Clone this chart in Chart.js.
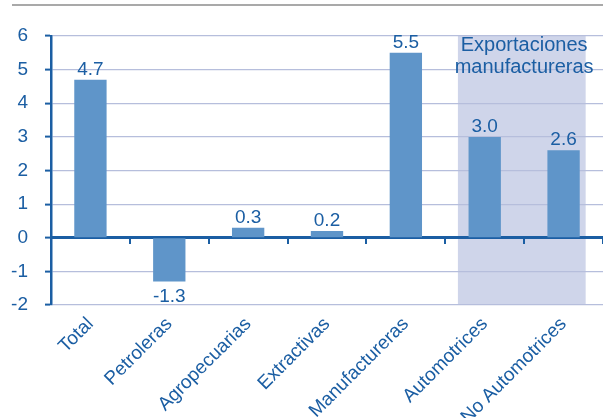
<!DOCTYPE html>
<html>
<head>
<meta charset="utf-8">
<script src="https://cdn.jsdelivr.net/npm/chart.js@4/dist/chart.umd.min.js"></script>
<style>
    html, body { margin: 0; padding: 0; background: #fff; }
    #wrap { position: relative; width: 603px; height: 418px; }
</style>
</head>
<body>
<div id="wrap"><canvas id="c" width="603" height="418"></canvas></div>
<script>
/* Exportaciones por tipo de producto — variación */

const categories = ['Total', 'Petroleras', 'Agropecuarias', 'Extractivas', 'Manufactureras', 'Automotrices', 'No Automotrices'];
const values = [4.7, -1.3, 0.3, 0.2, 5.5, 3.0, 2.6];
const yTicks = [-2, -1, 0, 1, 2, 3, 4, 5, 6];
const groupLabel = ['Exportaciones', 'manufactureras'];
const groupCategories = ['Automotrices', 'No Automotrices'];

const BLUE = '#1b5ea3';
const BAR = '#5f95c9';
const GRID = '#b6bedc';
const SHADE = '#cfd5ea';
const FONT = '"Liberation Sans", Arial, sans-serif';

// shaded band behind the manufacturing export bars, plus the rule at the top
const bandPlugin = {
    id: 'band',
    beforeDraw(chart) {
        const ctx = chart.ctx;
        const x = chart.scales.x;
        const area = chart.chartArea;
        const step = x.getPixelForValue(1) - x.getPixelForValue(0);
        const i0 = categories.indexOf(groupCategories[0]);
        const i1 = categories.indexOf(groupCategories[1]);
        const left = x.getPixelForValue(i0) - step * 0.34;
        const right = x.getPixelForValue(i1) + step * 0.28;
        ctx.save();
        ctx.fillStyle = SHADE;
        ctx.fillRect(left, area.top, right - left, area.bottom - area.top);
        ctx.strokeStyle = '#a9a9a9';
        ctx.lineWidth = 2;
        ctx.beginPath();
        ctx.moveTo(12, 5);
        ctx.lineTo(chart.width, 5);
        ctx.stroke();
        ctx.restore();
    },
    afterDatasetsDraw(chart) {
        const ctx = chart.ctx;
        const x = chart.scales.x;
        const y = chart.scales.y;
        const meta = chart.getDatasetMeta(0);
        ctx.save();
        ctx.fillStyle = BLUE;
        ctx.font = '19px ' + FONT;
        ctx.textAlign = 'center';
        meta.data.forEach(function (bar, i) {
            const v = values[i];
            if (v >= 0) {
                ctx.textBaseline = 'alphabetic';
                ctx.fillText(v.toFixed(1), bar.x, bar.y - 5);
            } else {
                ctx.textBaseline = 'top';
                ctx.fillText(v.toFixed(1), bar.x, bar.y + 6);
            }
        });
        // group caption
        const i0 = categories.indexOf(groupCategories[0]);
        const i1 = categories.indexOf(groupCategories[1]);
        const cx = (x.getPixelForValue(i0) + x.getPixelForValue(i1)) / 2;
        ctx.font = '20px ' + FONT;
        ctx.textBaseline = 'middle';
        ctx.fillText(groupLabel[0], cx, y.getPixelForValue(5.73));
        ctx.fillText(groupLabel[1], cx, y.getPixelForValue(5.05));
        ctx.restore();
    }
};

new Chart(document.getElementById('c'), {
    type: 'bar',
    data: {
        labels: categories,
        datasets: [{
            data: values,
            backgroundColor: BAR,
            borderWidth: 0,
            categoryPercentage: 1,
            barPercentage: 0.41
        }]
    },
    options: {
        responsive: false,
        animation: false,
        layout: { padding: { top: 36, right: 0, left: 0, bottom: 0 } },
        plugins: { legend: { display: false }, tooltip: { enabled: false } },
        scales: {
            x: {
                grid: { display: false },
                border: { display: false },
                ticks: {
                    color: BLUE,
                    font: { size: 19, family: FONT },
                    minRotation: 45,
                    maxRotation: 45,
                    padding: 0
                },
                afterFit: function (s) { s.height = 113; }
            },
            x0: {
                type: 'category',
                position: { y: 0 },
                grid: { drawOnChartArea: false, offset: true, tickLength: 5, color: BLUE, lineWidth: 2 },
                border: { display: true, color: BLUE, width: 3 },
                ticks: { display: false }
            },
            y: {
                min: yTicks[0],
                max: yTicks[yTicks.length - 1],
                afterBuildTicks: function (s) {
                    s.ticks = yTicks.map(function (v) { return { value: v }; });
                },
                grid: {
                    color: GRID,
                    tickColor: BLUE,
                    tickLength: 6,
                    lineWidth: 1.2,
                    tickWidth: 2
                },
                border: { display: true, color: BLUE, width: 2.5 },
                ticks: {
                    color: BLUE,
                    font: { size: 19, family: FONT },
                    padding: 17
                },
                afterFit: function (s) { s.width = 51; }
            }
        }
    },
    plugins: [bandPlugin]
});
</script>
</body>
</html>
